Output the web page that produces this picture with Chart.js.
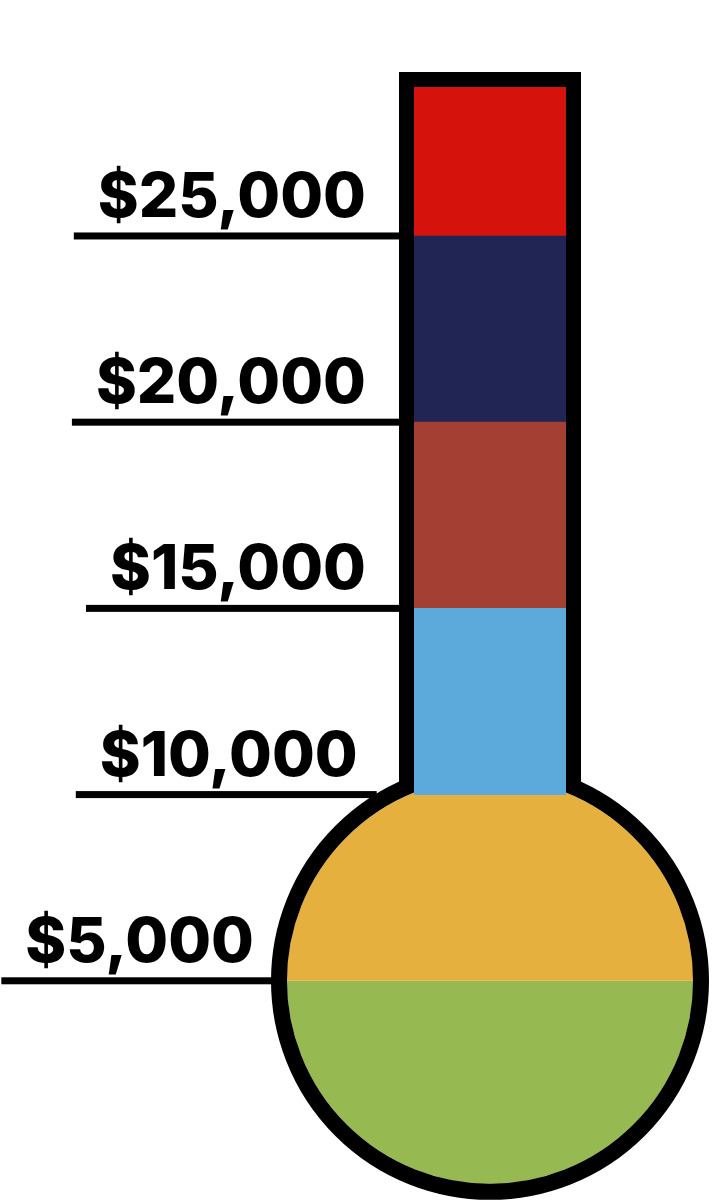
<!DOCTYPE html>
<html>
<head>
<meta charset="utf-8">
<script src="https://cdn.jsdelivr.net/npm/chart.js@4"></script>
<style>
  body { margin: 0; background: #fff; }
  #wrap { width: 720px; height: 1200px; }
</style>
</head>
<body>
<div id="wrap"><canvas id="thermo_chart"></canvas></div>
<script>
// raised so far, one stacked segment per step (bottom to top)
const segments = ['$0 - $5,000', '$5,000 - $10,000', '$10,000 - $15,000', '$15,000 - $20,000', '$20,000 - $25,000', '$25,000+']
const amounts = [5000, 5000, 5000, 5000, 5000, 4000]
const colors = ['#96b951', '#e5b03d', '#5baadb', '#a33f33', '#202554', '#d6120d']
const tickValues = [5000, 10000, 15000, 20000, 25000]
const tickLabels = ['$5,000', '$10,000', '$15,000', '$20,000', '$25,000']

const BULB_R = 203      // inner radius of the bulb
const WALL = 16         // outline thickness
const TUBE_WALL = 15

// first two segments sit in the bulb, the rest in the tube
const bulbPlugin = {
    id: 'bulb',
    beforeDatasetsDraw(chart) {
        const ctx = chart.ctx
        const low = chart.getDatasetMeta(0).data[0]
        const cx = low.x, cy = low.y
        ctx.save()
        ctx.fillStyle = colors[0]
        ctx.beginPath()
        ctx.arc(cx, cy, BULB_R, 0, Math.PI)
        ctx.closePath()
        ctx.fill()
        ctx.fillStyle = colors[1]
        ctx.beginPath()
        ctx.arc(cx, cy, BULB_R, Math.PI, 2 * Math.PI)
        ctx.closePath()
        ctx.fill()
        ctx.strokeStyle = '#000'
        ctx.lineWidth = WALL
        ctx.beginPath()
        ctx.arc(cx, cy, BULB_R + WALL / 2, 0, 2 * Math.PI)
        ctx.stroke()
        ctx.restore()
    },
    beforeDatasetDraw(chart, args) {
        if (args.index < 2) return false
    },
    afterDatasetsDraw(chart) {
        const ctx = chart.ctx
        const y = chart.scales.y
        const low = chart.getDatasetMeta(0).data[0]
        const top = chart.getDatasetMeta(amounts.length - 1).data[0]
        const cx = low.x, cy = low.y
        const half = top.width / 2
        const left = cx - half - TUBE_WALL / 2
        const right = cx + half + TUBE_WALL / 2
        const rMid = BULB_R + WALL / 2
        const join = cy - Math.sqrt(rMid * rMid - (half + TUBE_WALL / 2) ** 2)
        const topY = top.y - TUBE_WALL / 2

        ctx.save()
        ctx.strokeStyle = '#000'
        ctx.lineWidth = TUBE_WALL
        ctx.lineJoin = 'miter'
        ctx.beginPath()
        ctx.moveTo(left, join)
        ctx.lineTo(left, topY)
        ctx.lineTo(right, topY)
        ctx.lineTo(right, join)
        ctx.stroke()

        // tick labels with underline reaching the outline
        const rOut = BULB_R + WALL
        ctx.font = '800 62px Inter'
        ctx.textAlign = 'right'
        ctx.textBaseline = 'alphabetic'
        ctx.fillStyle = '#000'
        tickValues.forEach((v, i) => {
            const py = y.getPixelForValue(v)
            let end = cx - half - TUBE_WALL
            const dy = py - cy
            if (Math.abs(dy) < rOut) end = Math.min(end, cx - Math.sqrt(rOut * rOut - dy * dy))
            const textRight = Math.min(366, end - 17)
            const w = ctx.measureText(tickLabels[i]).width
            const start = Math.max(0, textRight - w - 24)
            ctx.fillText(tickLabels[i], textRight, py - 19)
            ctx.fillRect(start, py - 3.5, end - start + 2, 7)
        })
        ctx.restore()
    }
}

const datasets = amounts.map((v, i) => ({
    label: segments[i],
    data: [v],
    backgroundColor: colors[i],
    borderWidth: 0,
    barPercentage: 1,
    categoryPercentage: 1,
}))

const thermo_chart = new Chart(document.getElementById('thermo_chart'), {
    type: 'bar',
    data: { labels: ['Raised'], datasets: datasets },
    options: {
        responsive: true,
        maintainAspectRatio: false,
        animation: false,
        layout: { padding: { top: 87, bottom: 33, left: 414, right: 154 } },
        plugins: { legend: { display: false }, tooltip: { enabled: false } },
        scales: {
            x: { stacked: true, display: false },
            y: { stacked: true, display: false, min: 0, max: 29000 }
        }
    },
    plugins: [bulbPlugin]
})
</script>
</body>
</html>
